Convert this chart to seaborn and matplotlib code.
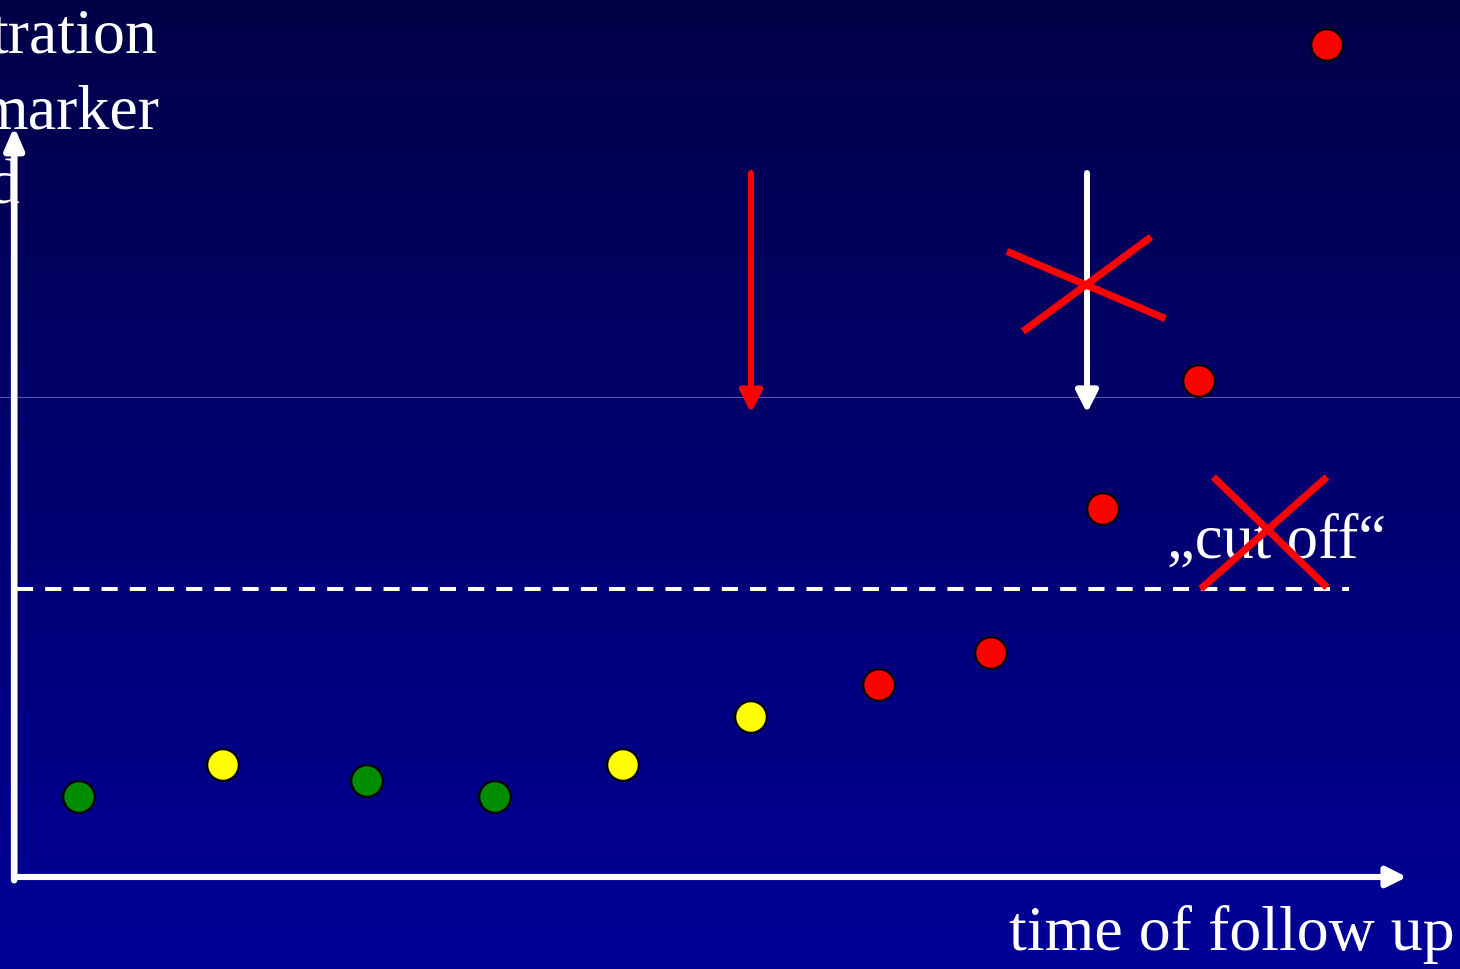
import numpy as np
import pandas as pd
import matplotlib
matplotlib.use("Agg")
import matplotlib.pyplot as plt
import seaborn as sns

# ---------------- data ----------------
time_points = [4, 13, 22, 30, 38, 46, 54, 61, 68, 74, 82]
concentration = [5, 7, 6, 5, 7, 10, 12, 14, 23, 31, 52]
status = ["normal", "borderline", "normal", "normal", "borderline", "borderline",
          "elevated", "elevated", "elevated", "elevated", "elevated"]
status_colors = {"normal": "#008C00", "borderline": "#FFFF00", "elevated": "#FF0000"}

cutoff_level = 18
cutoff_label = "\u201ecut off\u201c"
x_label = "time of follow up"
y_label_lines = ["tration", "marker", "d"]
faint_level = 30

# vertical arrows (time, start level, end level, colour)
arrow_times = [46, 67]
arrow_start = 44
arrow_end = 29
arrow_colors = ["#FF0000", "#FFFFFF"]

# crossing-out strokes: ((x0, y0), (x1, y1))
cross_strokes = [
    ((62.0, 39.1), (71.9, 34.9)),
    ((63.0, 34.1), (71.0, 40.0)),
    ((74.9, 25.0), (82.0, 18.1)),
    ((82.0, 25.0), (74.1, 18.0)),
]

df = pd.DataFrame({"time": time_points, "conc": concentration, "status": status})

# ---------------- figure ----------------
W, H, DPI = 1460, 969, 100
sns.set_theme(style="white")
plt.rcParams["font.family"] = ["Liberation Serif", "DejaVu Serif"]

fig = plt.figure(figsize=(W / DPI, H / DPI), dpi=DPI)
ax = fig.add_axes([0, 0, 1, 1])
ax.set_xlim(-15 / 16, (W - 15) / 16)
ax.set_ylim((877 - H) / 16, 877 / 16)
ax.axis("off")

# background gradient (dark navy at top to brighter blue at bottom)
grad = np.linspace(0, 1, 256).reshape(-1, 1)
top = np.array([0x00, 0x00, 0x48]) / 255
bot = np.array([0x00, 0x00, 0x97]) / 255
img = top[None, None, :] * (1 - grad[:, :, None]) + bot[None, None, :] * grad[:, :, None]
ax.imshow(img, extent=[0, 1, 0, 1], transform=ax.transAxes, aspect="auto",
          origin="upper", zorder=0)

# faint horizontal line
ax.axhline(faint_level, color="#5858AC", lw=0.8, zorder=1)

# axes arrows
x0 = -0.05
ax.annotate("", xy=(87.0, 0), xytext=(x0, 0),
            arrowprops=dict(arrowstyle="-|>,head_length=0.6,head_width=0.3",
                            mutation_scale=20, lw=4.4, color="white",
                            shrinkA=0, shrinkB=0), zorder=3)
ax.annotate("", xy=(x0, 46.9), xytext=(x0, -0.2),
            arrowprops=dict(arrowstyle="-|>,head_length=0.65,head_width=0.28",
                            mutation_scale=20, lw=4.8, color="white",
                            shrinkA=0, shrinkB=0), zorder=3)

# cut-off dashed line
ax.plot([0.1, 83.4], [cutoff_level, cutoff_level], color="white", lw=2.9,
        linestyle=(0, (4, 3)), zorder=2)

# vertical arrows
for t, c in zip(arrow_times, arrow_colors):
    ax.annotate("", xy=(t, arrow_end), xytext=(t, arrow_start),
                arrowprops=dict(arrowstyle="-|>,head_length=0.65,head_width=0.33",
                                mutation_scale=20, lw=4.3, color=c,
                                shrinkA=0, shrinkB=0), zorder=4)

# data points
sns.scatterplot(data=df, x="time", y="conc", hue="status", palette=status_colors,
                s=520, edgecolor="black", linewidth=1.6, legend=False, ax=ax,
                zorder=5)
ax.set_xlabel("")
ax.set_ylabel("")
ax.axis("off")

# texts
ax.text(90.0, -4.56, x_label, color="white", fontsize=46, ha="right",
        va="baseline", zorder=6)
ax.text(72.0, 19.99, cutoff_label, color="white", fontsize=45, ha="left",
        va="baseline", zorder=6)
label_pos = [(8.875, 51.56), (9.06, 46.8), (0.31, 42.1)]
for (lx, ly), s in zip(label_pos, y_label_lines):
    ax.text(lx, ly, s, color="white", fontsize=46, ha="right", va="baseline",
            zorder=6)

# crossing-out strokes
for (a, b) in cross_strokes:
    ax.plot([a[0], b[0]], [a[1], b[1]], color="#FF0000", lw=5.2,
            solid_capstyle="butt", zorder=7)

fig.savefig("out.png", dpi=DPI)
